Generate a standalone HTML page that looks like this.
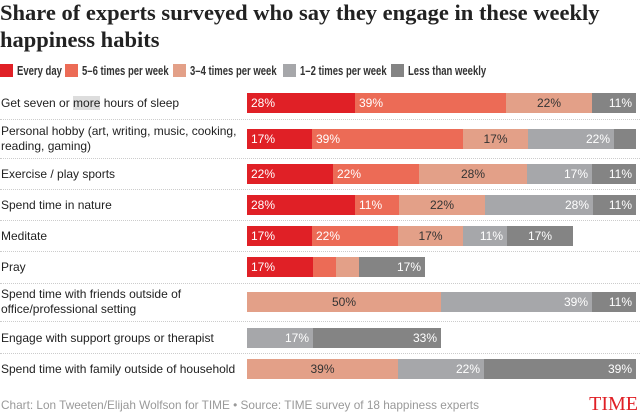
<!DOCTYPE html><html><head><style>
body{margin:0;width:640px;height:414px;background:#fff;font-family:"Liberation Sans",sans-serif;position:relative;overflow:hidden;color:#222}
.t{position:absolute;left:0;top:-1px;font:bold 22.5px/27px "Liberation Serif",serif;color:#222;white-space:nowrap}
.lg{position:absolute;top:64px;font-size:12.5px;height:14px;line-height:14px;font-weight:bold;color:#333;white-space:nowrap}
.lg i{display:inline-block;width:13px;height:13px;vertical-align:-2px;margin-right:4px}
.lg span{display:inline-block;transform:scaleX(0.76);transform-origin:left}
.lb{position:absolute;left:1px;font-size:12px;line-height:15px;color:#222;white-space:nowrap}
.bar{position:absolute;left:247px;height:20px;display:flex}
.bar div{height:20px;line-height:20px;font-size:12px;box-sizing:border-box;padding:0 4px;white-space:nowrap;overflow:hidden}
.a{background:#e02026;color:#fff}.b{background:#ec6b56;color:#fff}.c{background:#e3a088;color:#333;text-align:center}.d{background:#a6a7aa;color:#fff;text-align:right}.e{background:#848484;color:#fff;text-align:right}
.sep{position:absolute;left:0;width:640px;border-top:1px dotted #ccc}
.f{position:absolute;left:1px;top:398px;font-size:11.8px;color:#999;white-space:nowrap}
.time{position:absolute;right:2px;top:393px;font:20px "Liberation Serif",serif;color:#e02026}
</style></head><body>
<div class="t">Share of experts surveyed who say they engage in these weekly<br>happiness habits</div>
<div class="lg" style="left:0"><i style="background:#e02026"></i><span>Every day</span></div>
<div class="lg" style="left:65px"><i style="background:#ec6b56"></i><span>5–6 times per week</span></div>
<div class="lg" style="left:173px"><i style="background:#e3a088"></i><span>3–4 times per week</span></div>
<div class="lg" style="left:283px"><i style="background:#a6a7aa"></i><span>1–2 times per week</span></div>
<div class="lg" style="left:391px"><i style="background:#848484"></i><span>Less than weekly</span></div>

<div class="lb" style="top:96px">Get seven or <span style="background:#ddd">more</span> hours of sleep</div>
<div class="bar" style="top:93px"><div class="a" style="width:108px">28%</div><div class="b" style="width:151px">39%</div><div class="c" style="width:86px">22%</div><div class="e" style="width:44px">11%</div></div>
<div class="sep" style="top:119px"></div>

<div class="lb" style="top:124px">Personal hobby (art, writing, music, cooking,<br>reading, gaming)</div>
<div class="bar" style="top:129px"><div class="a" style="width:65px">17%</div><div class="b" style="width:151px">39%</div><div class="c" style="width:65px">17%</div><div class="d" style="width:86px">22%</div><div class="e" style="width:22px"></div></div>
<div class="sep" style="top:158px"></div>

<div class="lb" style="top:167px">Exercise / play sports</div>
<div class="bar" style="top:164px"><div class="a" style="width:86px">22%</div><div class="b" style="width:86px">22%</div><div class="c" style="width:108px">28%</div><div class="d" style="width:65px">17%</div><div class="e" style="width:44px">11%</div></div>
<div class="sep" style="top:189px"></div>

<div class="lb" style="top:198px">Spend time in nature</div>
<div class="bar" style="top:195px"><div class="a" style="width:108px">28%</div><div class="b" style="width:44px">11%</div><div class="c" style="width:86px">22%</div><div class="d" style="width:108px">28%</div><div class="e" style="width:43px">11%</div></div>
<div class="sep" style="top:220px"></div>

<div class="lb" style="top:229px">Meditate</div>
<div class="bar" style="top:226px"><div class="a" style="width:65px">17%</div><div class="b" style="width:86px">22%</div><div class="c" style="width:65px">17%</div><div class="d" style="width:44px">11%</div><div class="e" style="width:66px;text-align:center">17%</div></div>
<div class="sep" style="top:251px"></div>

<div class="lb" style="top:260px">Pray</div>
<div class="bar" style="top:257px"><div class="a" style="width:66px">17%</div><div class="b" style="width:23px"></div><div class="c" style="width:23px"></div><div class="e" style="width:66px">17%</div></div>
<div class="sep" style="top:283px"></div>

<div class="lb" style="top:287px">Spend time with friends outside of<br>office/professional setting</div>
<div class="bar" style="top:292px"><div class="c" style="width:194px">50%</div><div class="d" style="width:151px">39%</div><div class="e" style="width:44px">11%</div></div>
<div class="sep" style="top:321px"></div>

<div class="lb" style="top:331px">Engage with support groups or therapist</div>
<div class="bar" style="top:328px"><div class="d" style="width:66px">17%</div><div class="e" style="width:128px">33%</div></div>
<div class="sep" style="top:353px"></div>

<div class="lb" style="top:362px">Spend time with family outside of household</div>
<div class="bar" style="top:359px"><div class="c" style="width:151px">39%</div><div class="d" style="width:86px">22%</div><div class="e" style="width:152px">39%</div></div>

<div class="f">Chart: Lon Tweeten/Elijah Wolfson for TIME • Source: TIME survey of 18 happiness experts</div>
<div class="time">TIME</div>
</body></html>
